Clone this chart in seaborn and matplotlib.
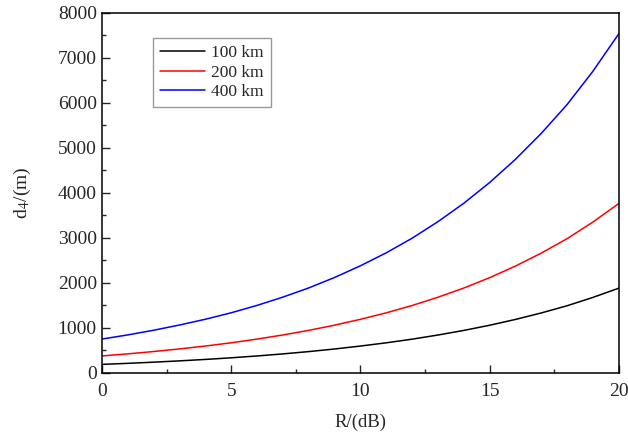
import pandas as pd
import matplotlib.pyplot as plt
import seaborn as sns
from matplotlib.ticker import MultipleLocator

# Datos
R = list(range(0, 21))
d_100 = [188, 211, 237, 266, 298, 334, 375, 421, 472, 530, 595,
         667, 748, 840, 942, 1057, 1186, 1330, 1490, 1675, 1880]
d_200 = [376, 422, 474, 532, 596, 668, 750, 842, 944, 1060, 1190,
         1334, 1496, 1680, 1884, 2114, 2372, 2660, 2980, 3350, 3760]
d_400 = [752, 844, 948, 1064, 1192, 1336, 1500, 1684, 1888, 2120, 2380,
         2668, 2992, 3360, 3768, 4228, 4744, 5320, 5960, 6700, 7530]
series = ['100 km', '200 km', '400 km']
colores = ['black', 'red', 'blue']

df = pd.concat([
    pd.DataFrame({'R': R, 'd': d_100, 'serie': series[0]}),
    pd.DataFrame({'R': R, 'd': d_200, 'serie': series[1]}),
    pd.DataFrame({'R': R, 'd': d_400, 'serie': series[2]}),
])

sns.set_style('ticks')
plt.rcParams['font.family'] = ['Liberation Serif', 'DejaVu Serif']
plt.rcParams['mathtext.fontset'] = 'stix'

fig = plt.figure(figsize=(6.28, 4.32), dpi=100)
ax = fig.add_axes([0.163, 0.137, 0.822, 0.833])
sns.lineplot(data=df, x='R', y='d', hue='serie', palette=colores, ax=ax, linewidth=1.1)

ax.set_xlim(0, 20)
ax.set_ylim(0, 8000)
ax.xaxis.set_major_locator(MultipleLocator(5))
ax.xaxis.set_minor_locator(MultipleLocator(2.5))
ax.yaxis.set_major_locator(MultipleLocator(1000))
ax.yaxis.set_minor_locator(MultipleLocator(500))
ax.tick_params(which='both', direction='in', labelsize=14, width=1, top=False, right=False)
ax.tick_params(which='major', length=6, pad=4)
ax.tick_params(axis='x', which='major', pad=7)
ax.tick_params(which='minor', length=3)
for s in ax.spines.values():
    s.set_linewidth(1.1)
    s.set_color('black')

ax.set_xlabel('R/(dB)', fontsize=13.5, labelpad=10)
ax.set_ylabel('d$_4$/(m)', fontsize=14, labelpad=18)

leg = ax.legend(loc='upper left', bbox_to_anchor=(0.098, 0.93), borderaxespad=0,
                fontsize=12.5, fancybox=False, edgecolor='gray', handlelength=2.6,
                handletextpad=0.35, labelspacing=0.2, borderpad=0.4, title=None)
leg.get_frame().set_linewidth(1)

fig.savefig('out.png', dpi=100)
